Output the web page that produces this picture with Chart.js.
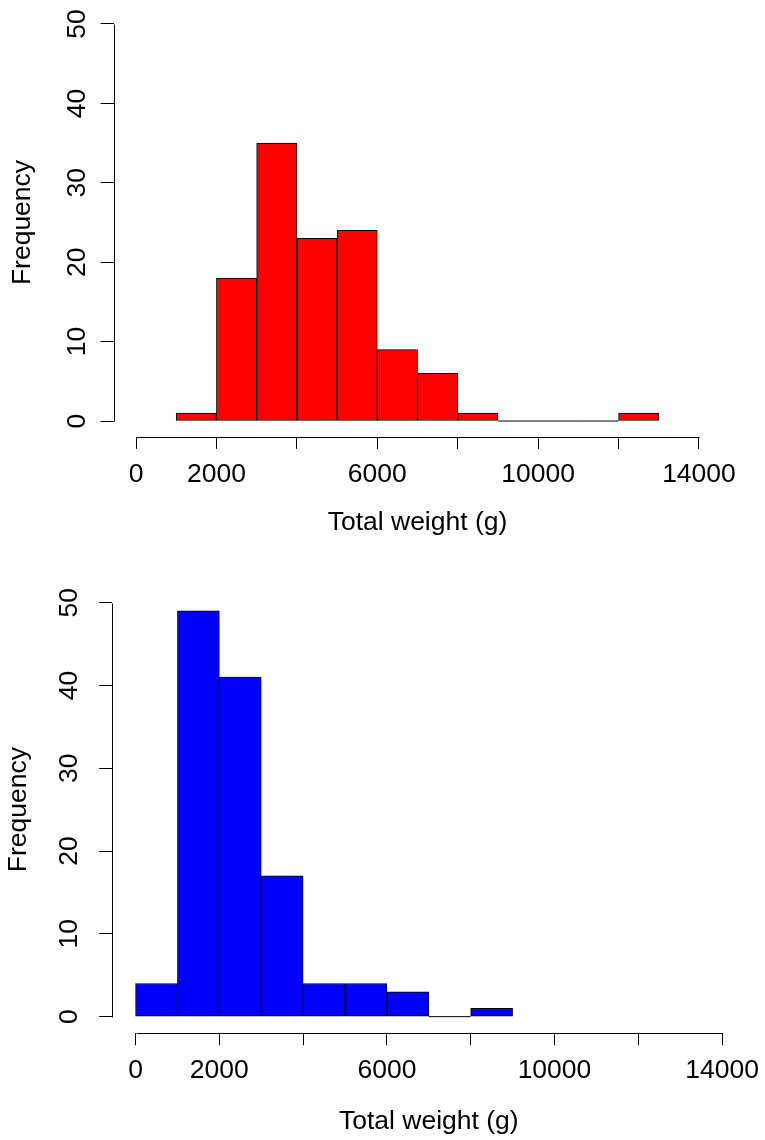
<!DOCTYPE html>
<html>
<head>
<meta charset="utf-8">
<script src="https://cdn.jsdelivr.net/npm/chart.js@4.4.1/dist/chart.umd.min.js"></script>
<style>
html,body{margin:0;padding:0;background:#fff;}
canvas{display:block;position:absolute;left:0;}
</style>
</head>
<body>
<canvas id="c1" width="765" height="570" style="top:0px"></canvas>
<canvas id="c2" width="765" height="570" style="top:570px"></canvas>
<script>
// ---- data ----
const binWidth = 1000;
const topBinStarts = [1000, 2000, 3000, 4000, 5000, 6000, 7000, 8000, 9000, 10000, 11000, 12000];
const topCounts = [1, 18, 35, 23, 24, 9, 6, 1, 0, 0, 0, 1];
const bottomBinStarts = [0, 1000, 2000, 3000, 4000, 5000, 6000, 7000, 8000];
const bottomCounts = [4, 49, 41, 17, 4, 4, 3, 0, 1];
const xTicks = [0, 2000, 4000, 6000, 8000, 10000, 12000, 14000];
const xTickLabels = ['0', '2000', '', '6000', '', '10000', '', '14000'];
const yTicks = [0, 10, 20, 30, 40, 50];
const yTickLabels = ['0', '10', '20', '30', '40', '50'];
const xTitle = 'Total weight (g)';
const yTitle = 'Frequency';

// ---- styling / layout ----
const FONT = "'Liberation Sans', Arial, Helvetica, sans-serif";
const FSIZE = 26.5;
const W = 765, H = 570;
const X_RANGE = [-560, 14560];
const Y_RANGE = [-2, 52];
const topLayout = {left: 113.5, right: 721.5, top: 8.1, bottom: 436.9, yTickPad: 8, yTitlePad: 7, xLabelPad: 10, xTitlePad: 31, color: '#FF0000'};
const bottomLayout = {left: 112.1, right: 745.5, top: 16.1, bottom: 463.2, yTickPad: 14.5, yTitlePad: 2.6, xLabelPad: 10, xTitlePad: 2, color: '#0000FF'};

const rAxes = {
  id: 'rAxes',
  afterDraw(chart) {
    const {ctx, chartArea, scales: {x, y}} = chart;
    ctx.save();
    ctx.strokeStyle = '#000';
    ctx.lineWidth = 1;
    ctx.beginPath();
    const ax = Math.round(chartArea.left) + 0.5;
    ctx.moveTo(ax, Math.round(y.getPixelForValue(yTicks[0])) + 0.5);
    ctx.lineTo(ax, Math.round(y.getPixelForValue(yTicks[yTicks.length - 1])) + 0.5);
    const ay = Math.round(chartArea.bottom) + 0.5;
    ctx.moveTo(Math.round(x.getPixelForValue(xTicks[0])) + 0.5, ay);
    ctx.lineTo(Math.round(x.getPixelForValue(xTicks[xTicks.length - 1])) + 0.5, ay);
    ctx.stroke();
    ctx.restore();
  }
};

function makeChart(id, starts, counts, L) {
  const bars = starts.map((s, i) => ({x: s + binWidth / 2, y: counts[i]}));
  const zeroLine = [];
  starts.forEach((s, i) => {
    if (counts[i] === 0) {
      zeroLine.push({x: s, y: 0}, {x: s + binWidth, y: 0}, {x: s + binWidth, y: null});
    }
  });
  return new Chart(document.getElementById(id), {
    type: 'bar',
    data: {
      datasets: [
        {type: 'bar', data: bars, backgroundColor: L.color, borderColor: '#000', borderWidth: 1,
         borderSkipped: false, barPercentage: 1, categoryPercentage: 1, grouped: false, order: 1},
        {type: 'line', data: zeroLine, borderColor: '#000', borderWidth: 1, pointRadius: 0,
         spanGaps: false, fill: false, order: 0}
      ]
    },
    options: {
      responsive: false, animation: false, events: [],
      layout: {padding: {left: 0, top: L.top, right: W - L.right, bottom: 0}},
      plugins: {legend: {display: false}, tooltip: {enabled: false}},
      scales: {
        x: {
          type: 'linear', min: X_RANGE[0], max: X_RANGE[1], offset: false, position: 'bottom',
          afterBuildTicks: s => { s.ticks = xTicks.map(v => ({value: v})); },
          afterFit: s => { s.height = H - L.bottom; s.paddingLeft = 0; s.paddingRight = 0; },
          grid: {display: true, drawOnChartArea: false, drawTicks: true, tickLength: 12, color: '#000', lineWidth: 1, offset: false},
          border: {display: false},
          ticks: {autoSkip: false, maxRotation: 0, minRotation: 0, padding: L.xLabelPad, color: '#000',
                  font: {family: FONT, size: FSIZE},
                  callback: v => { const i = xTicks.indexOf(v); return i >= 0 ? xTickLabels[i] : ''; }},
          title: {display: true, text: xTitle, color: '#000', font: {family: FONT, size: FSIZE},
                  padding: {top: 0, bottom: L.xTitlePad}}
        },
        y: {
          type: 'linear', min: Y_RANGE[0], max: Y_RANGE[1], position: 'left',
          afterBuildTicks: s => { s.ticks = yTicks.map(v => ({value: v})); },
          afterFit: s => { s.width = L.left; s.paddingTop = 0; s.paddingBottom = 0; },
          grid: {display: true, drawOnChartArea: false, drawTicks: true, tickLength: 13, color: '#000', lineWidth: 1},
          border: {display: false},
          ticks: {minRotation: 90, maxRotation: 90, crossAlign: 'center', padding: L.yTickPad, color: '#000',
                  font: {family: FONT, size: FSIZE},
                  callback: v => { const i = yTicks.indexOf(v); return i >= 0 ? yTickLabels[i] : ''; }},
          title: {display: true, text: yTitle, color: '#000', font: {family: FONT, size: FSIZE},
                  padding: {top: L.yTitlePad, bottom: 0}}
        }
      }
    },
    plugins: [rAxes]
  });
}

makeChart('c1', topBinStarts, topCounts, topLayout);
makeChart('c2', bottomBinStarts, bottomCounts, bottomLayout);
</script>
</body>
</html>
